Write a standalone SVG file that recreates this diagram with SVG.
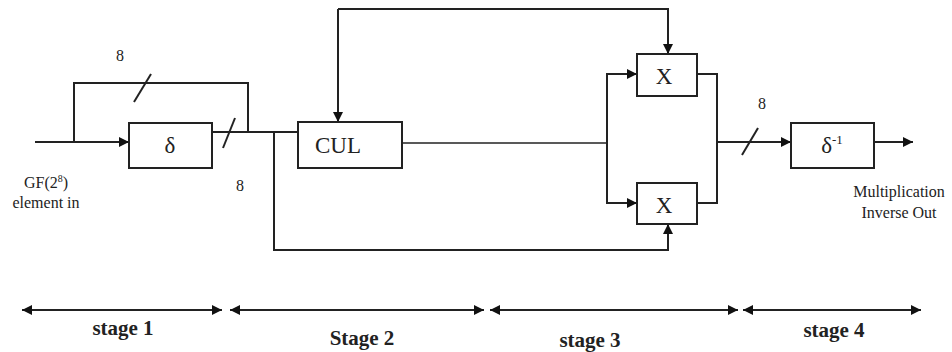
<svg xmlns="http://www.w3.org/2000/svg" width="952" height="352" viewBox="0 0 952 352">
<style>
.box{fill:#fff;stroke:#222;stroke-width:2}
.ln{fill:none;stroke:#222;stroke-width:2}
.thin{fill:none;stroke:#222;stroke-width:1.5}
.lbl{font-family:"Liberation Serif","Times New Roman",serif;fill:#222;text-anchor:middle}
.big{font-size:23px}
.sm{font-size:16px}
.st{font-size:21px;font-weight:bold}
</style>
<defs>
<marker id="ah" viewBox="0 0 10 10" refX="10" refY="5" markerWidth="10" markerHeight="10" markerUnits="userSpaceOnUse" orient="auto-start-reverse">
<path d="M0,0 L10,5 L0,10 z" fill="#111"/>
</marker>
</defs>
<rect width="952" height="352" fill="#fff"/>
<g id="connectors">
<path class="ln" d="M35,142 H129" marker-end="url(#ah)"/>
<path class="ln" d="M74,142 V83 H248 V132"/>
<path class="ln" d="M134,102 L151,74"/>
<path class="ln" d="M212,132 H298"/>
<path class="ln" d="M223,148 L235,118"/>
<path class="ln" d="M274,132 V250 H668 V224" marker-end="url(#ah)"/>
<path class="ln" d="M338,9 H668 V54" marker-end="url(#ah)"/>
<path class="ln" d="M338,9 V122" marker-end="url(#ah)"/>
<path class="thin" d="M402,143 H607"/>
<path class="ln" d="M607,143 V74 H637" marker-end="url(#ah)"/>
<path class="ln" d="M607,143 V203 H637" marker-end="url(#ah)"/>
<path class="ln" d="M697,74 H717 V203 H697"/>
<path class="ln" d="M717,142 H791" marker-end="url(#ah)"/>
<path class="ln" d="M742,155 L758,128"/>
<path class="ln" d="M874,142 H913" marker-end="url(#ah)"/>
<path class="ln" d="M22,310 H222" marker-start="url(#ah)" marker-end="url(#ah)"/>
<path class="ln" d="M230,310 H484" marker-start="url(#ah)" marker-end="url(#ah)"/>
<path class="ln" d="M490,310 H738" marker-start="url(#ah)" marker-end="url(#ah)"/>
<path class="ln" d="M743,310 H921" marker-start="url(#ah)" marker-end="url(#ah)"/>
</g>
<g id="delta">
<rect class="box" x="129" y="123" width="83" height="45"/>
<text class="lbl big" x="170" y="153">δ</text>
</g>
<g id="cul">
<rect class="box" x="298" y="122" width="104" height="46"/>
<text class="lbl big" x="338" y="153">CUL</text>
</g>
<g id="mul-top">
<rect class="box" x="637" y="54" width="60" height="42"/>
<text class="lbl big" x="664" y="84">X</text>
</g>
<g id="mul-bottom">
<rect class="box" x="637" y="183" width="60" height="41"/>
<text class="lbl big" x="664" y="213">X</text>
</g>
<g id="delta-inv">
<rect class="box" x="791" y="123" width="83" height="45"/>
<text class="lbl big" x="832" y="153">δ<tspan font-size="13" dy="-9">-1</tspan></text>
</g>
<g id="labels">
<text class="lbl sm" x="120" y="61">8</text>
<text class="lbl sm" x="240" y="191">8</text>
<text class="lbl sm" x="762" y="109">8</text>
<text class="lbl sm" x="46" y="188">GF(2<tspan font-size="10" dy="-6">8</tspan><tspan dy="6">)</tspan></text>
<text class="lbl sm" x="46" y="208">element in</text>
<text class="lbl sm" x="899" y="197">Multiplication</text>
<text class="lbl sm" x="899" y="218">Inverse Out</text>
<text class="lbl st" x="123" y="335">stage 1</text>
<text class="lbl st" x="362" y="345">Stage 2</text>
<text class="lbl st" x="590" y="347">stage 3</text>
<text class="lbl st" x="834" y="337">stage 4</text>
</g>
</svg>
